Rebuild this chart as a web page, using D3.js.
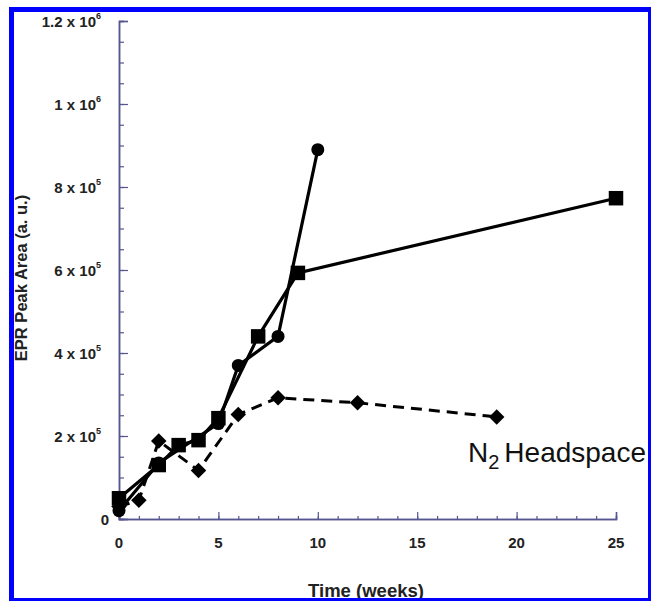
<!DOCTYPE html>
<html><head><meta charset="utf-8">
<script src="https://cdn.jsdelivr.net/npm/d3@7"></script>
<style>html,body{margin:0;padding:0;background:#fff}svg{display:block}</style>
</head><body>
<script>
// ---- data ----
const circleWeeks  = [0, 2, 5, 6, 8, 10];
const circleValues = [20000, 135000, 230000, 370000, 440000, 890000];
const squareWeeks  = [0, 2, 3, 4, 5, 7, 9, 25];
const squareValues = [50000, 130000, 178000, 190000, 243000, 440000, 593000, 773000];
const diamondWeeks  = [0, 1, 2, 4, 6, 8, 12, 19];
const diamondValues = [30000, 45000, 188000, 117000, 252000, 292000, 280000, 246000];
const xTickValues = [0, 5, 10, 15, 20, 25];
const yTickValues = [0, 200000, 400000, 600000, 800000, 1000000, 1200000];
const yTickMantissas = ["0", "2 x 10", "4 x 10", "6 x 10", "8 x 10", "1 x 10", "1.2 x 10"];
const yTickExponents = ["", "5", "5", "5", "5", "6", "6"];
const xLabel = "Time (weeks)";
const yLabel = "EPR Peak Area (a. u.)";

const W = 651, H = 601;
const svg = d3.select("body").append("svg").attr("width", W).attr("height", H);
svg.append("rect").attr("width", W).attr("height", H).attr("fill", "#fff");

const x = d3.scaleLinear().domain([0, 25]).range([119, 616]);
const y = d3.scaleLinear().domain([0, 1200000]).range([519, 21]);
const axisColor = "#55558f";
const textColor = "#222";
const font = "Liberation Sans, Arial, sans-serif";

// axes (ticks inward)
const gx = svg.append("g").attr("transform", `translate(0,${y(0)})`);
gx.call(d3.axisBottom(x).tickValues(d3.range(0, 26, 1)).tickSize(-3).tickFormat(""));
gx.append("g").call(d3.axisBottom(x).tickValues(xTickValues).tickSize(-7).tickFormat(""));
const gy = svg.append("g").attr("transform", `translate(${x(0)},0)`);
gy.call(d3.axisLeft(y).tickValues(d3.range(0, 1200001, 50000)).tickSize(-5).tickFormat(""));
gy.append("g").call(d3.axisLeft(y).tickValues(yTickValues).tickSize(-9).tickFormat(""));
svg.selectAll(".domain").attr("stroke", axisColor).attr("stroke-width", 1.5);
svg.selectAll(".tick line").attr("stroke", axisColor).attr("stroke-width", 1.2);

// tick labels
svg.append("g").selectAll("text").data(xTickValues).join("text")
  .attr("x", d => x(d)).attr("y", 548)
  .attr("text-anchor", "middle").attr("font-family", font).attr("font-weight", "bold")
  .attr("font-size", 15).attr("fill", textColor).text(d => d);

const yl = svg.append("g").selectAll("text").data(yTickValues).join("text")
  .attr("x", (d, i) => yTickExponents[i] ? 101 : 109).attr("y", d => y(d) + 6)
  .attr("text-anchor", "end").attr("font-family", font).attr("font-weight", "bold")
  .attr("font-size", 15).attr("fill", textColor);
yl.append("tspan").text((d, i) => yTickMantissas[i]);
yl.append("tspan").attr("dy", -8).attr("font-size", 9).text((d, i) => yTickExponents[i]);

// axis titles
svg.append("text").attr("x", 366).attr("y", 597).attr("text-anchor", "middle")
  .attr("font-family", font).attr("font-weight", "bold").attr("font-size", 18.5)
  .attr("fill", textColor).text(xLabel);
svg.append("text").attr("transform", "translate(27,278) rotate(-90)").attr("text-anchor", "middle")
  .attr("font-family", font).attr("font-weight", "bold").attr("font-size", 16.5)
  .attr("fill", textColor).text(yLabel);

// lines
const mk = (ws, vs) => ws.map((w, i) => [w, vs[i]]);
const line = d3.line().x(d => x(d[0])).y(d => y(d[1]));
const circles = mk(circleWeeks, circleValues);
const squares = mk(squareWeeks, squareValues);
const diamonds = mk(diamondWeeks, diamondValues);
svg.append("path").datum(diamonds).attr("d", line).attr("fill", "none")
  .attr("stroke", "#000").attr("stroke-width", 3).attr("stroke-dasharray", "11,7");
svg.append("path").datum(squares).attr("d", line).attr("fill", "none")
  .attr("stroke", "#000").attr("stroke-width", 3.2);
svg.append("path").datum(circles).attr("d", line).attr("fill", "none")
  .attr("stroke", "#000").attr("stroke-width", 3.2);

// markers
svg.append("g").selectAll("path").data(diamonds).join("path")
  .attr("transform", d => `translate(${x(d[0])},${y(d[1])}) rotate(45)`)
  .attr("d", d3.symbol(d3.symbolSquare, 120)).attr("fill", "#000");
svg.append("g").selectAll("path").data(squares).join("path")
  .attr("transform", d => `translate(${x(d[0])},${y(d[1])})`)
  .attr("d", d3.symbol(d3.symbolSquare, 210)).attr("fill", "#000");
svg.append("g").selectAll("circle").data(circles).join("circle")
  .attr("cx", d => x(d[0])).attr("cy", d => y(d[1])).attr("r", 6.5).attr("fill", "#000");

// annotation
const ann = svg.append("text").attr("x", 468).attr("y", 462)
  .attr("font-family", font).attr("font-size", 28).attr("fill", "#111");
ann.append("tspan").text("N");
ann.append("tspan").attr("dy", 7).attr("font-size", 20).text("2");
ann.append("tspan").attr("dy", -7).attr("dx", 5).text("Headspace");

// blue frame
svg.append("rect").attr("x", 9).attr("y", 7).attr("width", 5).attr("height", 593).attr("fill", "#0000ff");
svg.append("rect").attr("x", 9).attr("y", 7).attr("width", 642).attr("height", 5).attr("fill", "#0000ff");
svg.append("rect").attr("x", 648).attr("y", 7).attr("width", 3).attr("height", 594).attr("fill", "#0000ff");
svg.append("rect").attr("x", 9).attr("y", 598).attr("width", 642).attr("height", 3).attr("fill", "#0000ff");
</script>
</body></html>
